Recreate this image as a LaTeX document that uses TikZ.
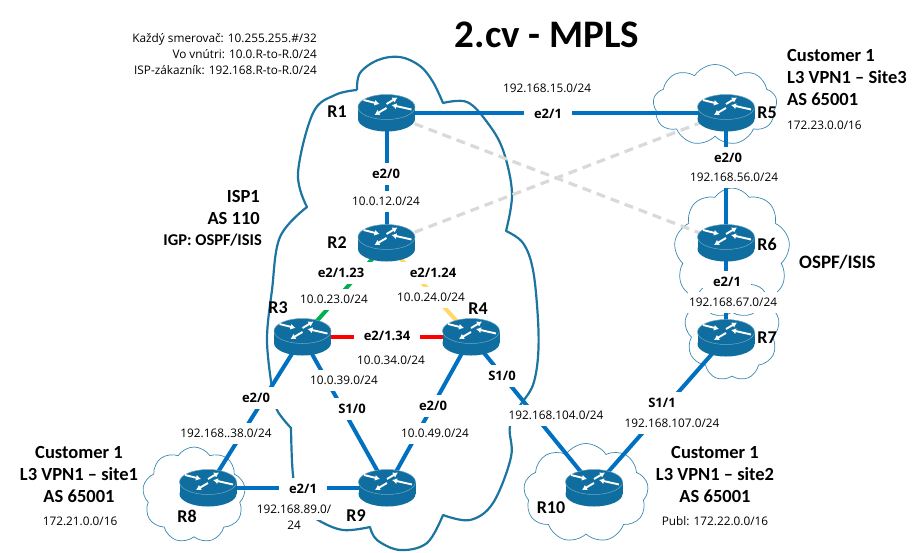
\documentclass[tikz,border=0pt]{standalone}
\usepackage{fontspec}
\setmainfont{Carlito}
\newfontfamily\netfont{Open Sans}
\usetikzlibrary{arrows.meta,shapes.symbols}
\definecolor{routerblue}{HTML}{0F6E9F}
\definecolor{rimblue}{HTML}{6FA8C4}
\definecolor{linkblue}{HTML}{0070C0}
\definecolor{ispblue}{HTML}{1B75A0}
\definecolor{custblue}{HTML}{3A8AB0}
\definecolor{vpngray}{HTML}{D9D9D9}
\definecolor{linkgreen}{HTML}{00B050}
\definecolor{linkyellow}{HTML}{FFD966}
\tikzset{
  routerbox/.style={minimum width=57pt,minimum height=37pt,inner sep=0pt},
  routerarrow/.style={white,line width=1.9pt,-{Latex[length=5pt,width=6pt]}},
  router/.pic={
    \fill[routerblue] (0,6) ellipse[x radius=28.5,y radius=12.5];
    \fill[routerblue] (-28.5,-6) rectangle (28.5,6);
    \draw[rimblue,fill=routerblue,line width=.5pt] (0,-6) ellipse[x radius=28.5,y radius=12.5];
    \draw[routerarrow] (-23,-13) -- (-7,-9);
    \draw[routerarrow] (0,-9) -- (11,-15.5);
    \draw[routerarrow] (25,-3.5) -- (5,-8);
    \draw[routerarrow] (0,-5) -- (-12,2);
  },
  ispcloud/.style={ispblue,line width=2.2pt,line join=round,smooth,tension=.6},
  custcloud/.style={cloud,cloud puffs=9,cloud puff arc=115,draw=custblue,line width=.7pt,inner sep=0pt},
  link/.style={linkblue,line width=4pt},
  vpnlink/.style={vpngray,line width=3.2pt,dash pattern=on 9pt off 6pt},
  rname/.style={font=\bfseries\fontsize{18}{20}\selectfont,inner sep=0pt},
  port/.style={font=\netfont\bfseries\fontsize{13}{14}\selectfont,fill=white,inner xsep=10pt,inner ysep=0pt,minimum height=22pt},
  net/.style={font=\netfont\fontsize{11.8}{13}\selectfont,fill=white,inner xsep=1pt,inner ysep=0pt,minimum height=21pt},
  cust/.style={font=\bfseries\fontsize{18.5}{22}\selectfont,align=center,inner sep=0pt},
  note/.style={font=\netfont\fontsize{11.8}{13}\selectfont,inner sep=0pt}
}
\begin{document}
\begin{tikzpicture}[x=1pt,y=-1pt]
  \useasboundingbox (0,0) rectangle (918,552);
  % routers first, so that the links have names to go to
  \foreach \name/\x/\y in {R1/386.5/113,R2/386.5/243,R3/302.5/337,R4/471/337,R5/726/113,
    R6/726/243,R7/726/338,R8/208/488,R9/387/488,R10/594/488}
    \node[routerbox] (\name) at (\x,\y) {};
  % clouds
  \draw[ispcloud] plot coordinates {(357,90) (360,73) (378,60) (400,57) (420,66) (433,82) (443,103)}
  -- plot coordinates {(443,103) (467,102) (487,122) (503,150) (512,193) (506,231)}
  -- plot coordinates {(506,231) (523,243) (533,270) (538,320) (538,357) (533,385) (523,401)}
  -- plot coordinates {(523,401) (510,426) (511,457) (493,503) (470,520) (443,515)}
  -- plot coordinates {(443,515) (427,543) (400,550) (377,540) (370,527)}
  -- plot coordinates {(370,527) (343,530) (318,520) (300,505) (293,475) (291,428)}
  -- plot coordinates {(291,428) (277,410) (272,388)}
  -- plot coordinates {(272,388) (267,340) (272,290) (280,237) (307,207)}
  -- plot coordinates {(307,207) (298,173) (313,113) (335,95) (357,90)};
  \node[custcloud,minimum width=124pt,minimum height=81pt] (cloud5) at (715,105) {};
  \node[custcloud,minimum width=116pt,minimum height=130pt] (cloud6) at (732,253) {};
  \node[custcloud,minimum width=95pt,minimum height=104pt] (cloud7) at (732,329) {};
  \node[custcloud,minimum width=103pt,minimum height=96pt] (cloud8) at (194,495) {};
  \node[custcloud,minimum width=125pt,minimum height=99pt] (cloud10) at (586,493) {};
  % links
  \foreach \a/\b in {R1/R5,R1/R2,R5/R6,R6/R7,R3/R8,R3/R9,R4/R9,R4/R10,R7/R10,R8/R9}
    \draw[link] (\a.center) -- (\b.center);
  \draw[link,linkgreen] (R2.center) -- (R3.center);
  \draw[link,linkyellow] (R2.center) -- (R4.center);
  \draw[link,red] (R3.center) -- (R4.center);
  \draw[vpnlink] (R1.center) -- (R6.center);
  \draw[vpnlink] (R2.center) -- (R5.center);
  % router icons on top of the links
  \foreach \name in {R1,R2,R3,R4,R5,R6,R7,R8,R9,R10}
    \pic at (\name) {router};
  % labels on the links
  \foreach \name/\x/\y/\txt in {p12/386/174/e2\slash 0,p15/548/114/e2\slash 1,p56/728/158/e2\slash 0,
    p67/727/282/e2\slash 1,p23/341/273/e2\slash 1.23,p24/433/273/e2\slash 1.24,p34/387/336/e2\slash 1.34,
    p38/256/398/e2\slash 0,p39/352/409/S1\slash 0,p49/433/406/e2\slash 0,p89/303/489/e2\slash 1,
    p104/502/376/S1\slash 0,p107/662/403/S1\slash 1}
    \node[port] (\name) at (\x,\y) {\txt};
  \foreach \name/\x/\y/\txt in {n12/386/201/10.0.12.0\slash 24,n15/547/88/192.168.15.0\slash 24,
    n56/734/177/192.168.56.0\slash 24,n67/733/302/192.168.67.0\slash 24,n23/334/299/10.0.23.0\slash 24,
    n24/431/297/10.0.24.0\slash 24,n34/391/360/10.0.34.0\slash 24,n38/226/433/192.168..38.0\slash 24,
    n39/344/380/10.0.39.0\slash 24,n49/435/433/10.0.49.0\slash 24,n104/556/415/192.168.104.0\slash 24,
    n107/672/423/192.168.107.0\slash 24,n89a/294/509/192.168.89.0\slash,n89b/294/525/24}
    \node[net] (\name) at (\x,\y) {\txt};
  % router names
  \foreach \name/\x/\y in {R1/337/112,R2/337/243,R3/278/308,R4/478/309,R5/767/113,
    R6/767/244,R7/767/338,R8/187/516,R9/356/516,R10/551/508}
    \node[rname] (name\name) at (\x,\y) {\name};
  % texts
  \node[font=\bfseries\fontsize{39}{40}\selectfont,inner sep=0pt] (title) at (547,35) {2.cv - MPLS};
  \node[note,align=right,anchor=north east,font=\netfont\fontsize{11.8}{16}\selectfont] (addr) at (317,33)
    {Každý smerovač: 10.255.255.\#/32\\Vo vnútri: 10.0.R-to-R.0/24\\ISP-zákazník: 192.168.R-to-R.0/24};
  \node[cust,align=right,anchor=east] (isp) at (260,207) {ISP1\\AS 110};
  \node[font=\bfseries\fontsize{16.5}{18}\selectfont,anchor=east,inner sep=0pt] (igp) at (262,240) {IGP: OSPF/ISIS};
  \node[cust,align=left,anchor=north west] (site3) at (787,49) {Customer 1\\L3 VPN1 – Site3\\AS 65001};
  \node[note,anchor=west] (pub3) at (787,125) {172.23.0.0/16};
  \node[cust,anchor=west,font=\bfseries\fontsize{19}{20}\selectfont] (ospf) at (799,262) {OSPF/ISIS};
  \node[cust] (site1) at (79,474) {Customer 1\\L3 VPN1 – site1\\AS 65001};
  \node[note] (pub1) at (80,521) {172.21.0.0/16};
  \node[cust] (site2) at (715,474) {Customer 1\\L3 VPN1 – site2\\AS 65001};
  \node[note] (pub2) at (715,521) {Publ: 172.22.0.0/16};
\end{tikzpicture}
\end{document}
